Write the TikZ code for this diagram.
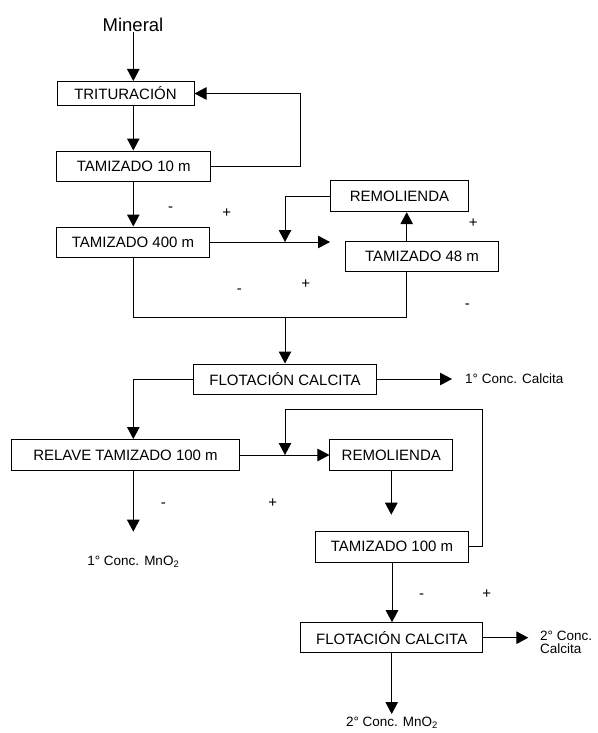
\documentclass[tikz,border=0pt]{standalone}
\usepackage{fontspec}
\setmainfont{Liberation Sans}
\usetikzlibrary{arrows.meta,positioning}
\tikzset{
  box/.style={draw, line width=1pt, inner sep=0pt, minimum height=30pt,
              font=\fontsize{15}{17}\selectfont},
  arr/.style={-{Triangle[length=12pt,width=12.5pt]}, line width=1pt},
  ln/.style={line width=1pt},
  lab/.style={font=\fontsize{13.5}{13}\selectfont, inner sep=0pt, align=left},
  sgn/.style={font=\fontsize{15}{17}\selectfont, inner sep=0pt},
}
\begin{document}
\begin{tikzpicture}[x=1pt,y=-1pt]
        \useasboundingbox (0,0) rectangle (597,733);
        % process boxes
        \node[font=\fontsize{18.5}{21}\selectfont, inner sep=0pt] (mineral) at (133,25) {Mineral};
        \node[box, minimum width=137pt, minimum height=24pt] (trit) at (125.5,93.5) {TRITURACIÓN};
        \node[box, minimum width=154pt] (tam10) at (133.7,166) {TAMIZADO 10 m};
        \node[box, minimum width=152.7pt] (tam400) at (133,242) {TAMIZADO 400 m};
        \node[box, minimum width=137.6pt, minimum height=31pt] (rem1) at (399.5,196.2) {REMOLIENDA};
        \node[box, minimum width=152.6pt] (tam48) at (422,256.5) {TAMIZADO 48 m};
        \node[box, minimum width=183.4pt] (flot1) at (285,379) {FLOTACIÓN CALCITA};
        \node[box, minimum width=227.6pt, minimum height=31pt] (relave) at (125.5,455) {RELAVE TAMIZADO 100 m};
        \node[box, minimum width=122.7pt, minimum height=31pt] (rem2) at (391.3,455) {REMOLIENDA};
        \node[box, minimum width=152.6pt, minimum height=31pt] (tam100) at (392,546.7) {TAMIZADO 100 m};
        \node[box, minimum width=182pt] (flot2) at (391.7,637.7) {FLOTACIÓN CALCITA};
        % products
        \node[lab, anchor=west] (cal1) at (465,379) {1° Conc. Calcita};
        \node[lab] (mn1) at (133.3,561.7) {1° Conc. MnO\textsubscript{2}};
        \node[lab, anchor=west] (cal2) at (540,642) {2° Conc.\\Calcita};
        \node[lab] (mn2) at (392,723) {2° Conc. MnO\textsubscript{2}};
        % screen signs
        \node[sgn] (s1) at (170.7,209) {-};
        \node[sgn] (s2) at (226.7,213.3) {+};
        \node[sgn] (s3) at (473.3,223.3) {+};
        \node[sgn] (s4) at (467.3,306.7) {-};
        \node[sgn] (s5) at (239.3,291.7) {-};
        \node[sgn] (s6) at (305.7,284.3) {+};
        \node[sgn] (s7) at (163.3,505) {-};
        \node[sgn] (s8) at (272.7,503.3) {+};
        \node[sgn] (s9) at (421.7,596) {-};
        \node[sgn] (s10) at (486.7,594) {+};
        % connectors
        \coordinate (sp) at (133.3,0);
        \coordinate (ax) at (406.7,0);
        \coordinate (end1) at (330,242);
        \coordinate (j1) at (285,242);
        \coordinate (j2) at (285,317.7);
        \coordinate (j3) at (285,409);
        \draw[arr] (sp |- mineral.south) -- (sp |- trit.north);
        \draw[arr] (sp |- trit.south) -- (sp |- tam10.north);
        \draw[arr] (tam10.east) -- ++(89.3,0) |- (trit.east);
        \draw[arr] (sp |- tam10.south) -- (sp |- tam400.north);
        \draw[arr] (tam400.east) -- (end1);
        \draw[arr] (rem1.west) -| (j1);
        \draw[arr] (ax |- tam48.north) -- (ax |- rem1.south);
        \draw[ln] (sp |- tam400.south) |- (j2) -| (ax |- tam48.south);
        \draw[arr] (j2) -- (flot1.north);
        \draw[arr, shorten >=13pt] (flot1.east) -- (cal1.west);
        \draw[arr] (flot1.west) -| (sp |- relave.north);
        \draw[arr, shorten >=24pt] (sp |- relave.south) -- (sp |- mn1.north);
        \draw[arr] (relave.east) -- (rem2.west);
        \draw[arr] (tam100.east) -- ++(14,0) |- (j3) -- (j3 |- relave.east);
        \draw[arr, shorten >=16pt] (rem2.south) -- (rem2.south |- tam100.north);
        \draw[arr] (tam100.south) -- (tam100.south |- flot2.north);
        \draw[arr, shorten >=11.7pt] (flot2.east) -- (flot2.east -| cal2.west);
        \draw[arr, shorten >=3pt] (flot2.south) -- (flot2.south |- mn2.north);
      \end{tikzpicture}
\end{document}
